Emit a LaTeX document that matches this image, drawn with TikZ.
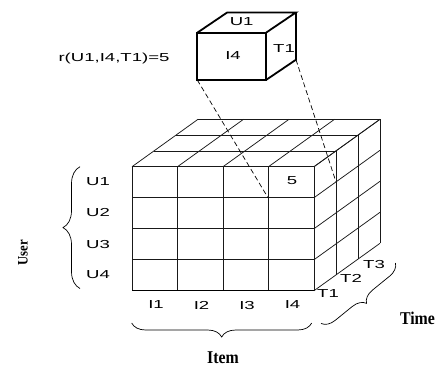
\documentclass[tikz,border=0pt]{standalone}
\usepackage{fontspec}
\usetikzlibrary{decorations.pathreplacing,calc}
\newfontfamily\labfont[FakeStretch=1.6]{Liberation Sans}
\newfontfamily\capfont[FakeStretch=0.88]{Liberation Serif}
\begin{document}
\begin{tikzpicture}[x=1pt,y=-1pt,
  grid/.style={line width=0.75pt, black!90},
  solid cube/.style={line width=1.8pt, line join=miter},
  link/.style={line width=0.7pt, dash pattern=on 5pt off 3pt},
  lab/.style={font=\labfont\fontsize{11.6}{12}\selectfont, inner sep=0pt},
  axis/.style={font=\capfont\bfseries\fontsize{18}{20}\selectfont, inner sep=0pt},
  bracket/.style={decorate, decoration={brace, amplitude=#1}, line width=0.7pt},
  bracket/.default=14pt,
]
\useasboundingbox (0,0) rectangle (438,370);

% ---- data cube: 4 items x 4 users x 3 time slices ----
% front face
\foreach \i in {0,...,4}
  \draw[grid] (132+45.5*\i,166.7) -- ++(0,124);
\foreach \j in {0,...,3}
  \draw[grid] (132,166.7+31*\j) -- ++(182,0);
\draw[line width=1.2pt] (132,290.7) -- (314,290.7);
% top face
\foreach \i in {0,...,4}
  \draw[grid] (132+45.5*\i,166.7) -- ++(66,-47.4);
\foreach \k in {1,2,3}
  \draw[grid] (132+22*\k,166.7-15.8*\k) -- ++(182,0);
% right face
\foreach \j in {0,...,4}
  \draw[grid] (314,166.7+31*\j) -- ++(66,-47.4);
\foreach \k in {1,2,3}
  \draw[grid] (314+22*\k,166.7-15.8*\k) -- ++(0,124);

% user labels
\foreach \u [count=\j from 0] in {U1,U2,U3,U4}
  \node[lab] (u\u) at (98,182+31*\j) {\u};
% item labels
\foreach \t [count=\i from 0] in {I1,I2,I3,I4}
  \node[lab] (i\t) at (156+45.5*\i,305) {\t};
% time labels
\node[lab] (t1) at (328,294) {T1};
\node[lab] (t2) at (351,278.5) {T2};
\node[lab] (t3) at (374,264) {T3};
% rating in cell (U1,I4,T1)
\node[lab] (rating) at (292,181) {5};

% ---- extracted single cell ----
\coordinate (sFTL) at (197.3,32.7);
\coordinate (sFTR) at (266,32.7);
\coordinate (sFBL) at (197.3,80);
\coordinate (sFBR) at (266,80);
\coordinate (sBTL) at (227.3,12.4);
\coordinate (sBTR) at (296,12.4);
\coordinate (sBBR) at (296,59.7);
\draw[solid cube] (sFTL) rectangle (sFBR);
\draw[solid cube] (sFTL) -- (sBTL) -- (sBTR) -- (sFTR);
\draw[solid cube] (sBTR) -- (sBBR) -- (sFBR);
\node[lab] (cU) at (241.7,21.5) {U1};
\node[lab] (cI) at (233,56) {I4};
\node[lab] (cT) at (284,48.5) {T1};
\node[lab] (formula) at (114,58) {r(U1,I4,T1)=5};

% dashed links from the cell to its place in the cube
\coordinate (cellA) at (268,197.7);
\coordinate (cellB) at (336,181.9);
\draw[link] (sFBL) -- (cellA);
\draw[link] (sBBR) -- (cellB);

% ---- axis braces ----
\coordinate (userTop) at (80,166.7);
\coordinate (userBot) at (80,288.5);
\draw[bracket=17pt] (userBot) -- (userTop);
\coordinate (itemL) at (131.7,323);
\coordinate (itemR) at (311.7,323);
\draw[bracket=14pt] (itemR) -- (itemL);
\coordinate (timeA) at (321,323.5);
\coordinate (timeB) at (395.5,263);
\draw[bracket=13pt] (timeB) -- (timeA);

\node[axis, font=\capfont\bfseries\fontsize{14.5}{16}\selectfont, rotate=90] (user) at (23,253) {User};
\node[axis] (item) at (223,358) {Item};
\node[axis] (time) at (417.5,318) {Time};
\end{tikzpicture}
\end{document}
